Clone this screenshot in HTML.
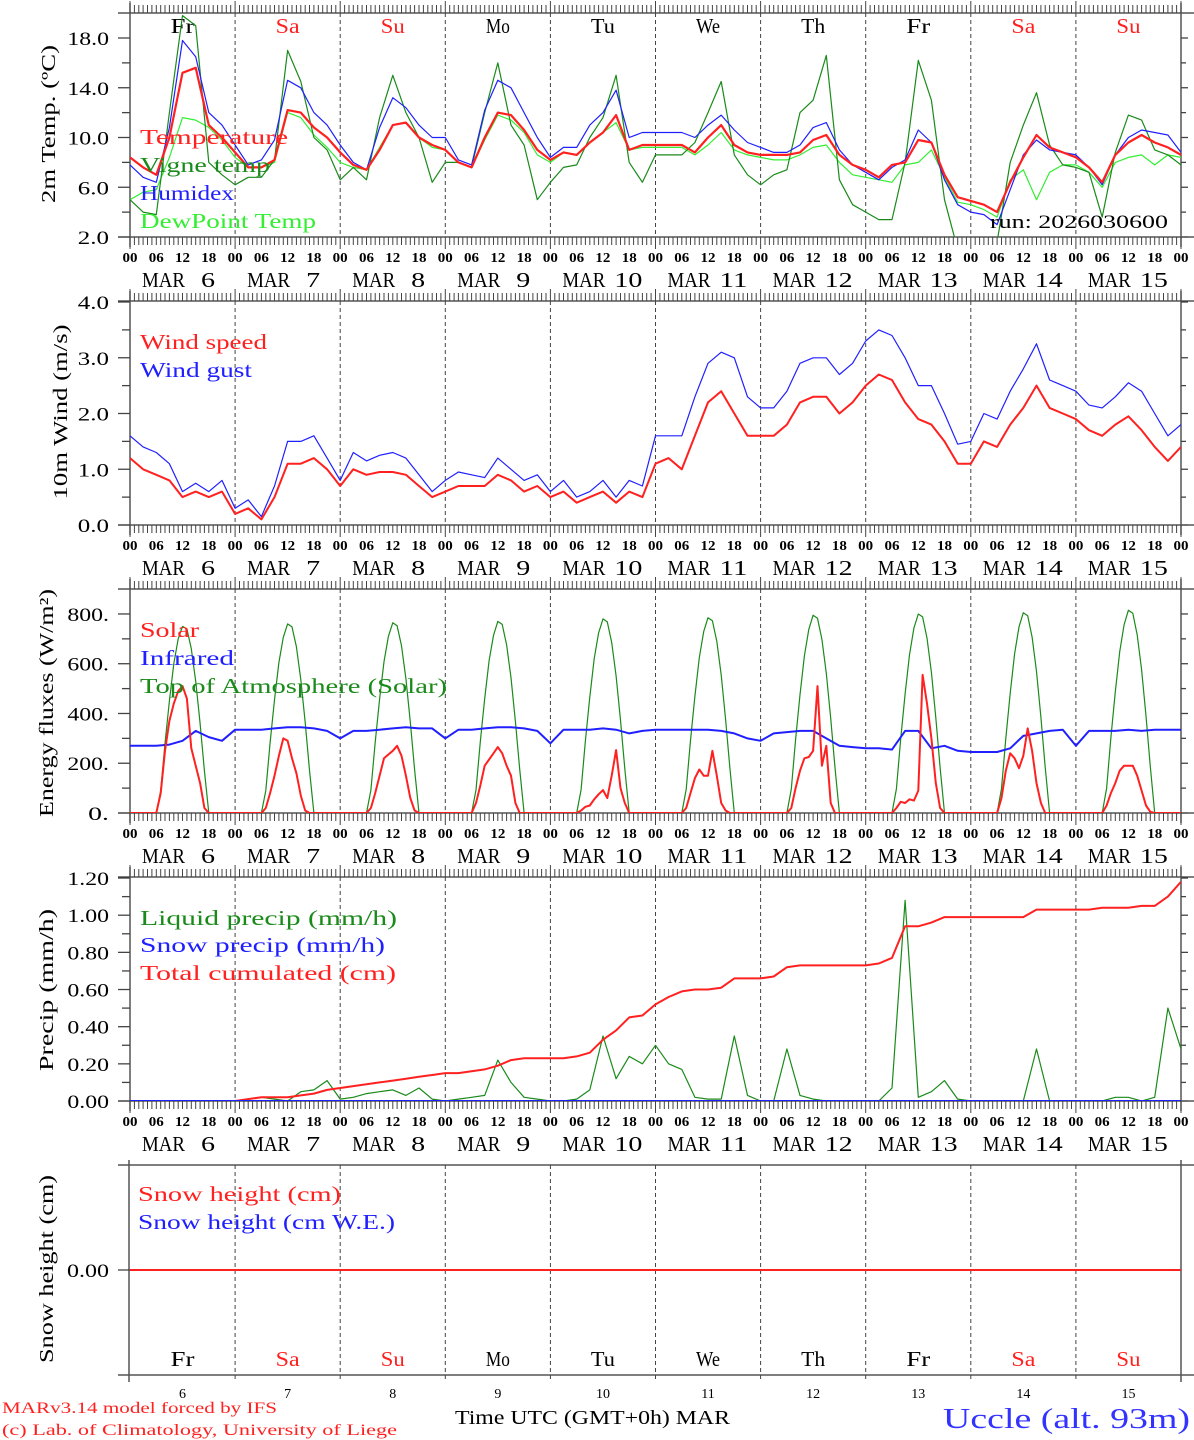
<!DOCTYPE html>
<html><head><meta charset="utf-8">
<style>
html,body{margin:0;padding:0;background:#fff;}
svg{display:block;font-family:"Liberation Serif",serif;}
</style></head>
<body>
<svg id="chart" width="1194" height="1440" viewBox="0 0 1194 1440" xmlns="http://www.w3.org/2000/svg">
<defs>
<clipPath id="c1"><rect x="130" y="13" width="1051" height="224"/></clipPath>
<clipPath id="c2"><rect x="130" y="301" width="1051" height="224"/></clipPath>
<clipPath id="c3"><rect x="130" y="589" width="1051" height="224"/></clipPath>
<clipPath id="c4"><rect x="130" y="877" width="1051" height="224"/></clipPath>
<clipPath id="c5"><rect x="130" y="1165" width="1051" height="210"/></clipPath>
</defs>
<g id="frames"></g>
<g id="series"></g>
<text transform="translate(55,124) rotate(-90)" text-anchor="middle" font-size="20" textLength="158" lengthAdjust="spacingAndGlyphs">2m Temp. (ºC)</text>
<text transform="translate(67,412) rotate(-90)" text-anchor="middle" font-size="20" textLength="175" lengthAdjust="spacingAndGlyphs">10m Wind (m/s)</text>
<text transform="translate(53,703) rotate(-90)" text-anchor="middle" font-size="20" textLength="228" lengthAdjust="spacingAndGlyphs">Energy fluxes (W/m²)</text>
<text transform="translate(53,990) rotate(-90)" text-anchor="middle" font-size="20" textLength="162" lengthAdjust="spacingAndGlyphs">Precip (mm/h)</text>
<text transform="translate(53,1269) rotate(-90)" text-anchor="middle" font-size="20" textLength="188" lengthAdjust="spacingAndGlyphs">Snow height (cm)</text>
<g font-size="21">
<text x="140" y="144" fill="#ff2020" textLength="148" lengthAdjust="spacingAndGlyphs">Temperature</text>
<text x="140" y="172" fill="#1a8a1a" textLength="130" lengthAdjust="spacingAndGlyphs">Vigne temp</text>
<text x="140" y="200" fill="#2020ff" textLength="94" lengthAdjust="spacingAndGlyphs">Humidex</text>
<text x="140" y="228" fill="#33ee33" textLength="176" lengthAdjust="spacingAndGlyphs">DewPoint Temp</text>
<text x="990" y="228" fill="#000" font-size="19" textLength="178" lengthAdjust="spacingAndGlyphs">run: 2026030600</text>
<text x="140" y="349" fill="#ff2020" textLength="127" lengthAdjust="spacingAndGlyphs">Wind speed</text>
<text x="140" y="377" fill="#2020ff" textLength="112" lengthAdjust="spacingAndGlyphs">Wind gust</text>
<text x="140" y="637" fill="#ff2020" textLength="59" lengthAdjust="spacingAndGlyphs">Solar</text>
<text x="140" y="665" fill="#2020ff" textLength="94" lengthAdjust="spacingAndGlyphs">Infrared</text>
<text x="140" y="693" fill="#1a8a1a" textLength="307" lengthAdjust="spacingAndGlyphs">Top of Atmosphere (Solar)</text>
<text x="140" y="925" fill="#1a8a1a" textLength="257" lengthAdjust="spacingAndGlyphs">Liquid precip (mm/h)</text>
<text x="140" y="952" fill="#2020ff" textLength="245" lengthAdjust="spacingAndGlyphs">Snow precip (mm/h)</text>
<text x="140" y="980" fill="#ff2020" textLength="256" lengthAdjust="spacingAndGlyphs">Total cumulated (cm)</text>
<text x="138" y="1201" fill="#ff2020" textLength="203" lengthAdjust="spacingAndGlyphs">Snow height (cm)</text>
<text x="138" y="1229" fill="#2020ff" textLength="257" lengthAdjust="spacingAndGlyphs">Snow height (cm W.E.)</text>
</g>
<text x="2" y="1413" fill="#ff2020" font-size="16" textLength="275" lengthAdjust="spacingAndGlyphs">MARv3.14 model forced by IFS</text>
<text x="2" y="1435" fill="#ff2020" font-size="16" textLength="395" lengthAdjust="spacingAndGlyphs">(c) Lab. of Climatology, University of Liege</text>
<text x="455" y="1424" font-size="20" textLength="275" lengthAdjust="spacingAndGlyphs">Time UTC (GMT+0h) MAR</text>
<text x="943" y="1428" fill="#3333ff" font-size="28" textLength="247" lengthAdjust="spacingAndGlyphs">Uccle (alt. 93m)</text>
</svg>
<script>
const dayNames = ["Fr","Sa","Su","Mo","Tu","We","Th","Fr","Sa","Su"];
const dayNums = ["6","7","8","9","10","11","12","13","14","15"];
const hourLabels = ["00","06","12","18"];
const tempTicks = ["2.0","6.0","10.0","14.0","18.0"];
const windTicks = ["0.0","1.0","2.0","3.0","4.0"];
const energyTicks = ["0.","200.","400.","600.","800."];
const precipTicks = ["0.00","0.20","0.40","0.60","0.80","1.00","1.20"];
const temperature = [8.4,7.6,7.0,10.0,15.2,15.6,11.0,10.0, 8.8,7.6,7.6,8.2,12.2,12.0,10.8,10.0, 8.8,7.8,7.4,9.0,11.0,11.2,10.0,9.4, 9.0,8.0,7.6,10.0,12.0,11.8,10.6,9.0, 8.2,8.8,8.6,9.6,10.4,11.8,9.0,9.4, 9.4,9.4,9.4,8.8,10.0,11.0,9.4,8.8, 8.6,8.6,8.6,8.8,9.8,10.2,8.6,7.8, 7.4,6.8,7.8,8.0,9.8,9.6,7.0,5.2, 4.9,4.6,4.0,6.4,8.4,10.2,9.2,8.8, 8.4,7.6,6.4,8.6,9.6,10.2,9.6,9.2, 8.6];
const humidex = [7.8,6.8,6.4,10.8,17.8,16.5,12.0,11.0, 9.4,7.8,8.2,9.8,14.6,14.0,12.0,11.0, 9.4,8.0,7.4,10.8,13.2,12.4,11.0,10.0, 10.0,8.2,7.8,12.2,14.6,14.0,12.0,10.0, 8.4,9.2,9.2,11.0,12.0,13.8,10.0,10.4, 10.4,10.4,10.4,10.0,11.0,11.8,10.6,9.6, 9.2,8.8,8.8,9.4,10.8,11.2,9.0,7.8, 7.2,6.6,7.6,8.2,10.6,9.6,6.6,4.6, 4.0,3.8,3.0,5.8,8.6,9.8,9.0,8.8, 8.6,7.6,6.2,8.6,10.0,10.6,10.4,10.2, 8.8];
const vigneTemp = [5.0,4.0,3.8,12.0,19.8,19.0,8.0,7.0, 6.2,6.8,6.8,8.2,17.0,14.5,10.0,9.0, 6.6,7.6,6.6,11.6,15.0,12.0,10.0,6.4, 8.0,8.0,7.6,12.0,16.0,11.0,9.4,5.0, 6.4,7.6,7.8,10.0,11.6,15.0,8.0,6.4, 8.6,8.6,8.6,9.6,12.0,14.5,8.6,7.0, 6.2,7.0,7.4,12.0,13.0,16.6,6.6,4.6, 4.0,3.4,3.4,8.0,16.2,13.0,5.0,1.0, -1.0,-2.0,1.6,8.0,11.0,13.6,9.4,7.8, 7.6,7.2,3.6,8.8,11.8,11.4,9.0,8.6, 7.8];
const dewPoint = [5.0,5.6,5.8,8.4,11.6,11.4,10.8,9.8, 8.4,7.6,7.6,8.0,12.0,11.6,10.2,9.2, 8.0,7.6,7.4,9.2,11.0,11.2,10.0,9.2, 9.0,8.0,7.6,9.8,11.8,11.4,10.4,8.6, 8.0,8.8,8.6,9.6,10.4,11.2,9.0,9.2, 9.2,9.2,9.2,8.6,9.4,10.4,9.0,8.6, 8.4,8.2,8.2,8.6,9.2,9.4,8.0,7.0, 6.8,6.6,6.4,7.8,8.0,9.0,6.8,4.8, 4.6,4.2,3.6,6.6,7.4,5.0,7.2,7.8, 7.8,7.2,6.0,8.0,8.4,8.6,7.8,8.6, 8.4];
const windSpeed = [1.2,1.0,0.9,0.8,0.5,0.6,0.5,0.6, 0.2,0.3,0.1,0.5,1.1,1.1,1.2,1.0, 0.7,1.0,0.9,0.95,0.95,0.9,0.7,0.5, 0.6,0.7,0.7,0.7,0.9,0.8,0.6,0.7, 0.5,0.6,0.4,0.5,0.6,0.4,0.6,0.5, 1.1,1.2,1.0,1.6,2.2,2.4,2.0,1.6, 1.6,1.6,1.8,2.2,2.3,2.3,2.0,2.2, 2.5,2.7,2.6,2.2,1.9,1.8,1.5,1.1, 1.1,1.5,1.4,1.8,2.1,2.5,2.1,2.0, 1.9,1.7,1.6,1.8,1.95,1.7,1.4,1.15, 1.4];
const windGust = [1.6,1.4,1.3,1.1,0.6,0.75,0.6,0.8, 0.3,0.45,0.15,0.7,1.5,1.5,1.6,1.2, 0.8,1.3,1.15,1.25,1.3,1.2,0.9,0.6, 0.8,0.95,0.9,0.85,1.2,1.0,0.8,0.9, 0.6,0.8,0.5,0.6,0.8,0.5,0.8,0.7, 1.6,1.6,1.6,2.3,2.9,3.1,3.0,2.3, 2.1,2.1,2.4,2.9,3.0,3.0,2.7,2.9, 3.3,3.5,3.4,3.0,2.5,2.5,2.0,1.45, 1.5,2.0,1.9,2.4,2.8,3.25,2.6,2.5, 2.4,2.15,2.1,2.3,2.55,2.4,2.0,1.6, 1.8];
const infrared = [270,270,270,275,290,330,305,290, 335,335,335,340,345,345,340,330, 300,330,330,335,340,345,340,340, 300,335,335,340,345,345,340,330, 280,335,335,335,340,335,320,330, 335,335,335,335,335,330,320,300, 290,320,325,330,330,300,270,265, 260,260,255,330,330,260,270,250, 245,245,245,260,310,320,330,335, 270,330,330,330,335,330,335,335, 335];
const solarDay = [
 [0,80,250,370,440,490,510,460,260,190,120,20,0],
 [0,20,80,150,230,300,290,220,160,70,10,0,0],
 [0,20,80,150,220,235,250,270,230,150,60,10,0],
 [0,40,110,190,215,240,265,240,190,150,40,0,0],
 [0,10,25,30,55,75,92,60,150,253,100,40,0],
 [0,20,80,140,175,150,150,250,150,40,10,0,0],
 [0,20,100,170,220,225,250,510,190,270,40,0,0],
 [0,20,45,40,55,50,90,555,440,300,120,20,0],
 [0,60,170,240,220,180,230,340,250,120,40,0,0],
 [0,30,80,120,170,190,190,190,150,90,30,5,0]];
const toaDay = [
 [0,90,280,450,600,700,750,740,660,530,360,170,0],
 [0,90,282,455,605,706,760,748,668,536,364,172,0],
 [0,92,284,458,608,710,765,753,672,540,366,174,0],
 [0,93,286,460,612,714,770,758,676,544,368,176,0],
 [0,94,290,466,620,724,780,768,685,551,373,178,0],
 [0,95,292,469,624,729,785,773,690,555,376,180,0],
 [0,96,296,475,632,738,795,783,698,562,381,182,0],
 [0,97,298,478,636,743,800,788,703,566,383,183,0],
 [0,98,299,481,640,748,805,793,707,569,385,184,0],
 [0,99,303,487,648,757,815,803,716,576,390,187,0]];
const liquidPrecip = [0,0,0,0,0,0,0,0, 0,0.01,0.02,0.01,0,0.05,0.06,0.11, 0.01,0.02,0.04,0.05,0.06,0.03,0.07,0.01, 0,0.01,0.02,0.03,0.22,0.10,0.02,0.01, 0,0,0.01,0.06,0.35,0.12,0.24,0.20, 0.30,0.20,0.17,0.02,0.01,0.01,0.35,0.03, 0,0,0.28,0.03,0.01,0,0,0, 0,0,0.07,1.08,0.02,0.05,0.11,0.01, 0,0,0,0,0,0.28,0,0, 0,0,0,0.02,0.02,0,0.02,0.50, 0.28];
const totalCum = [0,0,0,0,0,0,0,0, 0,0.01,0.02,0.02,0.02,0.03,0.04,0.06, 0.07,0.08,0.09,0.10,0.11,0.12,0.13,0.14, 0.15,0.15,0.16,0.17,0.19,0.22,0.23,0.23, 0.23,0.23,0.24,0.26,0.33,0.38,0.45,0.46, 0.52,0.56,0.59,0.60,0.60,0.61,0.66,0.66, 0.66,0.67,0.72,0.73,0.73,0.73,0.73,0.73, 0.73,0.74,0.77,0.94,0.94,0.96,0.99,0.99, 0.99,0.99,0.99,0.99,0.99,1.03,1.03,1.03, 1.03,1.03,1.04,1.04,1.04,1.05,1.05,1.10, 1.18];
const snowPrecip = [0,0];
const snowHeight = [0,0];

const NS="http://www.w3.org/2000/svg";
const X0=130, X1=1181, DAYW=(X1-X0)/10;
function xh(h){return X0+h*DAYW/24;}
function yT(v){return 237-(v-2)*49.75/4;}
function yW(v){return 525-v*55.75;}
function yE(v){return 813-v*0.2488;}
function yP(v){return 1101-v*185.8;}
function yS(v){return 1270-v*100;}
const frames=document.getElementById('frames');
const series=document.getElementById('series');
function mk(tag,attrs,parent){const e=document.createElementNS(NS,tag);for(const k in attrs)e.setAttribute(k,attrs[k]);(parent||frames).appendChild(e);return e;}
function txt(s,attrs,parent){const e=mk('text',attrs,parent);e.textContent=s;return e;}

const panelTops=[13,301,589,877];
const panelBots=[237,525,813,1101];
const panelTicks=[tempTicks,windTicks,energyTicks,precipTicks];
const panelY=[yT,yW,yE,yP];
const panelNames=['temp','wind','energy','precip'];
for(let p=0;p<4;p++){
  const t=panelTops[p],b=panelBots[p],nm=panelNames[p];
  let e;
  e=mk('line',{x1:118,y1:t,x2:1194,y2:t,stroke:'#333','stroke-width':1.3});
  
  
  e=mk('line',{x1:118,y1:b,x2:1194,y2:b,stroke:'#333','stroke-width':1.3});
  
  
  e=mk('line',{x1:X0,y1:t-10,x2:X0,y2:b+10,stroke:'#555','stroke-width':1.5});
  
  
  e=mk('line',{x1:X1,y1:t-10,x2:X1,y2:b+10,stroke:'#555','stroke-width':1.5});
  
  
  let d='';
  for(let h=0;h<=240;h++){const x=xh(h).toFixed(1);const L=(h%24===0)?12:8;d+=`M${x} ${t}v${-L}M${x} ${b}v${L}`;}
  e=mk('path',{d:d,stroke:'#444','stroke-width':1,fill:'none'});
  
  
  for(let k=1;k<10;k++){
    e=mk('line',{x1:xh(k*24),y1:t,x2:xh(k*24),y2:b,stroke:'#444','stroke-width':1,'stroke-dasharray':'4,3'});
    
    
  }
  const ticks=panelTicks[p],yf=panelY[p];
  for(let i=0;i<ticks.length;i++){
    const v=parseFloat(ticks[i]);const y=yf(v);
    e=mk('line',{x1:118,y1:y,x2:X0,y2:y,stroke:'#444','stroke-width':1.3});
    
    
    e=mk('line',{x1:X1,y1:y,x2:X1+7,y2:y,stroke:'#444','stroke-width':1.3});
    
    
    e=txt(ticks[i],{x:109,y:y+7,'text-anchor':'end','font-size':19,textLength:ticks[i].length*10.4,lengthAdjust:'spacingAndGlyphs'});
    
    
    if(i<ticks.length-1){
      const vm=(v+parseFloat(ticks[i+1]))/2, ym=yf(vm);
      e=mk('line',{x1:122,y1:ym,x2:X0,y2:ym,stroke:'#444','stroke-width':1.3});
      
      
      e=mk('line',{x1:X1,y1:ym,x2:X1+5,y2:ym,stroke:'#444','stroke-width':1.3});
      
      
    }
  }
  for(let k=0;k<10;k++){
    for(let j=0;j<4;j++){
      e=txt(hourLabels[j],{x:xh(k*24+j*6),y:b+25,'text-anchor':'middle','font-size':14,'font-weight':'bold',textLength:15,lengthAdjust:'spacingAndGlyphs'});
      
      
    }
    const ds=xh(k*24);
    e=txt('MAR',{x:ds+12,y:b+50,'font-size':21,textLength:43,lengthAdjust:'spacingAndGlyphs'});
    
    
    e=txt(dayNums[k],{x:ds+78,y:b+50,'text-anchor':'middle','font-size':21,textLength:dayNums[k].length*14,lengthAdjust:'spacingAndGlyphs'});
    
    
  }
  e=txt(hourLabels[0],{x:xh(240),y:b+25,'text-anchor':'middle','font-size':14,'font-weight':'bold',textLength:15,lengthAdjust:'spacingAndGlyphs'});
  
  
}
for(let k=0;k<10;k++){
  const red=(dayNames[k]==='Sa'||dayNames[k]==='Su');
  let e=txt(dayNames[k],{x:xh(k*24+12),y:33,'text-anchor':'middle','font-size':21,fill:red?'#ff2020':'#000',textLength:24,lengthAdjust:'spacingAndGlyphs'});
  
  
}
{
  let e;
  e=mk('line',{x1:118,y1:1165,x2:1194,y2:1165,stroke:'#333','stroke-width':1.3});
  
  
  e=mk('line',{x1:118,y1:1375,x2:1194,y2:1375,stroke:'#333','stroke-width':1.3});
  
  
  e=mk('line',{x1:X0-1,y1:1160,x2:X0-1,y2:1382,stroke:'#555','stroke-width':1.5});
  
  
  e=mk('line',{x1:X1,y1:1160,x2:X1,y2:1382,stroke:'#555','stroke-width':1.5});
  
  
  e=mk('line',{x1:118,y1:1270,x2:X0,y2:1270,stroke:'#444','stroke-width':1.3});
  
  
  e=txt('0.00',{x:109,y:1277,'text-anchor':'end','font-size':19,textLength:42,lengthAdjust:'spacingAndGlyphs'});
  
  
  for(let k=1;k<10;k++){
    e=mk('line',{x1:xh(k*24),y1:1165,x2:xh(k*24),y2:1382,stroke:'#444','stroke-width':1,'stroke-dasharray':'4,3'});
    
    
  }
  for(let k=0;k<10;k++){
    const red=(dayNames[k]==='Sa'||dayNames[k]==='Su');
    e=txt(dayNames[k],{x:xh(k*24+12),y:1366,'text-anchor':'middle','font-size':21,fill:red?'#ff2020':'#000',textLength:24,lengthAdjust:'spacingAndGlyphs'});
    
    
    e=txt(dayNums[k],{x:xh(k*24+12),y:1398,'text-anchor':'middle','font-size':14});
    
    
  }
}
function poly3(arr,yf,color,w,clip,name){
  let d='';
  for(let i=0;i<arr.length;i++){d+=(i?'L':'M')+xh(i*3).toFixed(1)+' '+yf(arr[i]).toFixed(1);}
  const e=mk('path',{d:d,stroke:color,'stroke-width':w,fill:'none','clip-path':'url(#'+clip+')','stroke-linejoin':'round'},series);
  
  
}
function polyDay(days,yf,color,w,clip,name){
  let d='M'+xh(0)+' '+yf(0);
  for(let k=0;k<days.length;k++){for(let j=0;j<days[k].length;j++){d+='L'+xh(k*24+6+j).toFixed(1)+' '+yf(days[k][j]).toFixed(1);}}
  d+='L'+xh(240)+' '+yf(0);
  const e=mk('path',{d:d,stroke:color,'stroke-width':w,fill:'none','clip-path':'url(#'+clip+')','stroke-linejoin':'round'},series);
  
  
}
function flat(arr,yf,color,w,clip,name){
  const e=mk('line',{x1:xh(0),y1:yf(arr[0]),x2:xh(240),y2:yf(arr[arr.length-1]),stroke:color,'stroke-width':w,'clip-path':'url(#'+clip+')'},series);
  
  
}
poly3(dewPoint,yT,'#33ee33',1.2,'c1','dewpoint-line');
poly3(vigneTemp,yT,'#1a8a1a',1.2,'c1','vigne-temp-line');
poly3(humidex,yT,'#2020ff',1.2,'c1','humidex-line');
poly3(temperature,yT,'#ff2020',2.2,'c1','temperature-line');
poly3(windGust,yW,'#2020ff',1.2,'c2','wind-gust-line');
poly3(windSpeed,yW,'#ff2020',2,'c2','wind-speed-line');
polyDay(toaDay,yE,'#1a8a1a',1.2,'c3','toa-solar-line');
poly3(infrared,yE,'#2020ff',2,'c3','infrared-line');
polyDay(solarDay,yE,'#ff2020',2,'c3','solar-line');
poly3(liquidPrecip,yP,'#1a8a1a',1.2,'c4','liquid-precip-line');
poly3(totalCum,yP,'#ff2020',2,'c4','total-cumulated-line');
flat(snowPrecip,yP,'#2020ff',2,'c4','snow-precip-line');
flat(snowHeight,yS,'#ff2020',2,'c5','snow-height-line');
</script>
</body></html>
